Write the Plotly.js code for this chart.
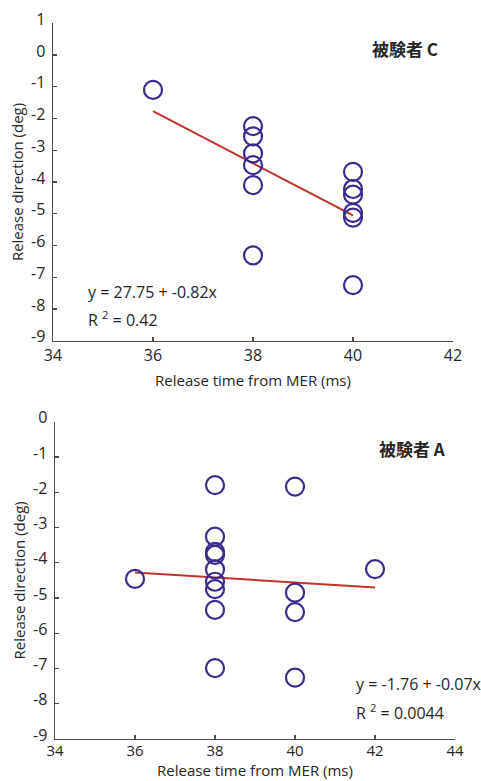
<!DOCTYPE html>
<html>
<head>
<meta charset="utf-8">
<script src="https://cdn.plot.ly/plotly-3.0.1.min.js"></script>
<style>html,body{margin:0;padding:0;background:#fff;}</style>
</head>
<body>
<div id="chart" style="width:481px;height:781px;"></div>
<script>
// ---- Panel C (top) ----
const cX = [36, 38, 38, 38, 38, 38, 38, 40, 40, 40, 40, 40, 40];
const cY = [-1.1, -2.24, -2.56, -3.1, -3.47, -4.1, -6.31, -3.68, -4.22, -4.4, -4.97, -5.12, -7.25];
const cIntercept = 27.75;
const cSlope = -0.82;
const cR2 = "0.42";
const cLabel = "被験者 C";

// ---- Panel A (bottom) ----
const aX = [36, 38, 38, 38, 38, 38, 38, 38, 38, 38, 40, 40, 40, 40, 42];
const aY = [-4.46, -1.8, -3.26, -3.69, -3.78, -4.19, -4.54, -4.75, -5.34, -6.99, -1.84, -4.85, -5.4, -7.26, -4.18];
const aIntercept = -1.76;
const aSlope = -0.07;
const aR2 = "0.0044";
const aLabel = "被験者 A";

// tick labels
const cXTicks = [34, 36, 38, 40, 42];
const aXTicks = [34, 36, 38, 40, 42, 44];
const cYTicks = [1, 0, -1, -2, -3, -4, -5, -6, -7, -8, -9];
const aYTicks = [0, -1, -2, -3, -4, -5, -6, -7, -8, -9];
const xTitle = "Release time from MER (ms)";
const yTitle = "Release direction (deg)";

const FONT = "Open Sans, Noto Sans, sans-serif";
const CJK = "Noto Sans CJK JP, sans-serif";
const MARK = "#3a2a8c";
const RED = "#c0332b";
const AXC = "#564a45";
const TXT = "#262626";

function fitLine(xs, b, m) {
  const lo = Math.min(...xs), hi = Math.max(...xs);
  return { x: [lo, hi], y: [b + m * lo, b + m * hi] };
}
const cLine = fitLine(cX, cIntercept, cSlope);
const aLine = fitLine(aX, aIntercept, aSlope);

const markerStyle = { symbol: "circle-open", size: 18, color: MARK, line: { width: 2.2, color: MARK } };

const traces = [
  { x: cLine.x, y: cLine.y, mode: "lines", line: { color: RED, width: 2 }, xaxis: "x", yaxis: "y", hoverinfo: "skip" },
  { x: cX, y: cY, mode: "markers", marker: markerStyle, xaxis: "x", yaxis: "y" },
  { x: aLine.x, y: aLine.y, mode: "lines", line: { color: RED, width: 2 }, xaxis: "x2", yaxis: "y2", hoverinfo: "skip" },
  { x: aX, y: aY, mode: "markers", marker: markerStyle, xaxis: "x2", yaxis: "y2" }
];

const axBase = {
  showline: true, linecolor: AXC, linewidth: 1.4,
  ticks: "inside", ticklen: 4, tickcolor: AXC, tickwidth: 1.4,
  showgrid: false, zeroline: false,
  tickfont: { family: FONT, size: 16, color: TXT },
  tickmode: "array"
};

function xAxis(domain, range, ticks, anchor, standoff, tickSize, labelOff) {
  return Object.assign({}, axBase, {
    domain: domain, range: range, anchor: anchor,
    tickvals: ticks, ticktext: ticks.map(String),
    tickfont: { family: FONT, size: tickSize, color: TXT },
    ticklabelstandoff: labelOff,
    title: { text: xTitle, font: { family: FONT, size: 15, color: TXT }, standoff: standoff }
  });
}
function yAxis(domain, range, ticks, anchor) {
  return Object.assign({}, axBase, {
    domain: domain, range: range, anchor: anchor,
    tickvals: ticks, ticktext: ticks.map(t => (t < 0 ? "-" + Math.abs(t) : String(t))),
    ticklabelshift: -4, ticklabelstandoff: 3,
    title: { text: yTitle, font: { family: FONT, size: 15, color: TXT }, standoff: 4 }
  });
}

const H = 716;
const eqFont = { family: FONT, size: 16, color: TXT };
const layout = {
  width: 481, height: 781,
  margin: { l: 53, r: 26, t: 23, b: 42 },
  paper_bgcolor: "#fff", plot_bgcolor: "#fff",
  showlegend: false,
  xaxis: xAxis([0, 400 / 402], [34, 42], cXTicks, "y", 10, 16, 0),
  yaxis: yAxis([(739 - 340.7) / H, (739 - 23.3) / H], [-9, 1], cYTicks, "x"),
  xaxis2: xAxis([2 / 402, 1], [34, 44], aXTicks, "y2", 4, 15, -2),
  yaxis2: yAxis([0, (739 - 421.7) / H], [-9, 0], aYTicks, "x2"),
  annotations: [
    { xref: "x", yref: "y", x: 41.04, y: 0.22, text: "<b>" + cLabel + "</b>", showarrow: false,
      xanchor: "center", yanchor: "middle", font: { family: CJK, size: 17, color: TXT } },
    { xref: "x", yref: "y", x: 34.66, y: -7.86, text: "y = " + cIntercept + " + " + cSlope + "x", showarrow: false,
      xanchor: "left", yanchor: "bottom", font: eqFont },
    { xref: "x", yref: "y", x: 34.66, y: -7.89, text: "R <sup>2</sup> = " + cR2, showarrow: false,
      xanchor: "left", yanchor: "top", font: eqFont },
    { xref: "x2", yref: "y2", x: 42.93, y: -0.75, text: "<b>" + aLabel + "</b>", showarrow: false,
      xanchor: "center", yanchor: "middle", font: { family: CJK, size: 17, color: TXT } },
    { xref: "x2", yref: "y2", x: 41.475, y: -7.81, text: "y = " + aIntercept + " + " + aSlope + "x", showarrow: false,
      xanchor: "left", yanchor: "bottom", font: eqFont },
    { xref: "x2", yref: "y2", x: 41.475, y: -7.84, text: "R <sup>2</sup> = " + aR2, showarrow: false,
      xanchor: "left", yanchor: "top", font: eqFont }
  ]
};

Plotly.newPlot("chart", traces, layout, { staticPlot: true, displayModeBar: false });
</script>
</body>
</html>
